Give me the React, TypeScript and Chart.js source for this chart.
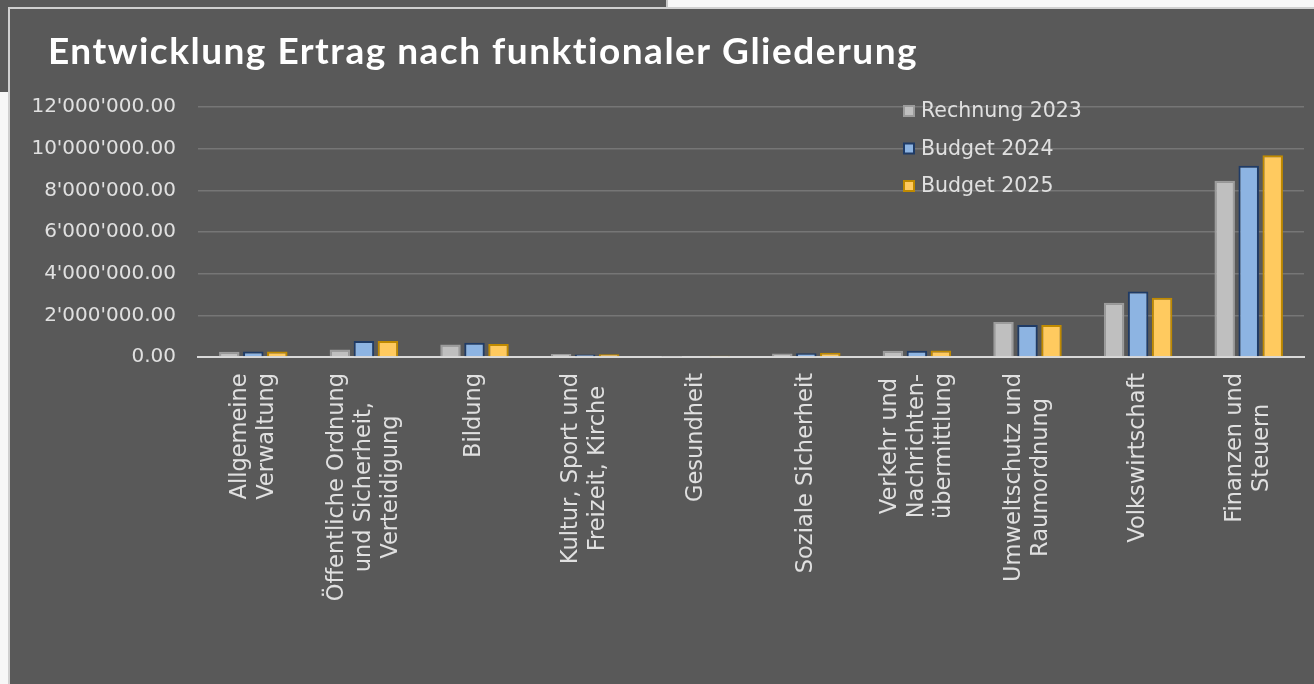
import React, { useEffect, useRef } from "react";
import { Chart, registerables } from "chart.js";

Chart.register(...registerables);

const TITLE = "Entwicklung Ertrag nach funktionaler Gliederung";

const categories: string[][] = [
  ["Allgemeine", "Verwaltung"],
  ["Öffentliche Ordnung", "und Sicherheit,", "Verteidigung"],
  ["Bildung"],
  ["Kultur, Sport und", "Freizeit, Kirche"],
  ["Gesundheit"],
  ["Soziale Sicherheit"],
  ["Verkehr und", "Nachrichten-", "übermittlung"],
  ["Umweltschutz und", "Raumordnung"],
  ["Volkswirtschaft"],
  ["Finanzen und", "Steuern"],
];

const seriesNames = ["Rechnung 2023", "Budget 2024", "Budget 2025"];

const rechnung2023 = [250000, 360000, 600000, 150000, 15000, 170000, 300000, 1680000, 2600000, 8460000];
const budget2024 = [260000, 770000, 680000, 120000, 40000, 180000, 300000, 1540000, 3150000, 9180000];
const budget2025 = [260000, 770000, 630000, 130000, 60000, 210000, 310000, 1540000, 2850000, 9680000];

const yMin = 0;
const yMax = 12000000;
const yStep = 2000000;

const fillColors = ["#bfbfbf", "#8db4e2", "#ffca5f"];
const borderColors = ["#9c9c9c", "#1f3b66", "#c08a00"];

function fmt(v: number): string {
  const fixed = Number(v).toFixed(2);
  const [intPart, dec] = fixed.split(".");
  return intPart.replace(/\B(?=(\d{3})+(?!\d))/g, "'") + "." + dec;
}

const overlayPlugin = {
  id: "overlay",
  afterDraw(chart: any) {
    const ctx = chart.ctx as any;
    const xs = chart.scales.x;
    const area = chart.chartArea;
    ctx.save();
    // title
    ctx.fillStyle = "#ffffff";
    ctx.font = "bold 37px Lato";
    ctx.textAlign = "left";
    ctx.textBaseline = "alphabetic";
    ctx.letterSpacing = "1.5px";
    ctx.fillText(TITLE, 48, 64);
    ctx.letterSpacing = "0px";

    // category labels, rotated, lines centred
    ctx.font = '22.5px "DejaVu Sans"';
    ctx.fillStyle = "#e0e0e0";
    const lh = 27;
    categories.forEach((lines, i) => {
      const x = xs.getPixelForValue(i);
      const maxW = Math.max(...lines.map((l) => ctx.measureText(l).width));
      ctx.save();
      ctx.translate(x, area.bottom + 16);
      ctx.rotate(-Math.PI / 2);
      ctx.textAlign = "center";
      ctx.textBaseline = "middle";
      lines.forEach((l, j) => {
        ctx.fillText(l, -maxW / 2, (j - (lines.length - 1) / 2) * lh);
      });
      ctx.restore();
    });

    // legend
    ctx.font = '20.5px "DejaVu Sans"';
    ctx.textAlign = "left";
    ctx.textBaseline = "middle";
    chart.data.datasets.forEach((ds: any, i: number) => {
      const cy = 111 + i * 37.5;
      const bx = 903;
      ctx.fillStyle = ds.borderColor;
      ctx.fillRect(bx, cy - 6, 12, 12);
      ctx.fillStyle = ds.backgroundColor;
      ctx.fillRect(bx + 2, cy - 4, 8, 8);
      ctx.fillStyle = "#e0e0e0";
      ctx.fillText(ds.label, 921, cy + 1);
    });
    ctx.restore();
  },
};

export default function App() {
  const ref = useRef<HTMLCanvasElement | null>(null);

  useEffect(() => {
    if (!ref.current) return;
    const series = [rechnung2023, budget2024, budget2025];
    const chart = new Chart(ref.current, {
      type: "bar",
      data: {
        labels: categories.map((c) => c.join(" ")),
        datasets: series.map((data, i) => ({
          label: seriesNames[i],
          data,
          backgroundColor: fillColors[i],
          borderColor: borderColors[i],
          borderWidth: 2,
          borderSkipped: "start",
          categoryPercentage: 0.651,
          barPercentage: 0.854,
        })),
      },
      options: {
        responsive: false,
        animation: false,
        devicePixelRatio: 1,
        layout: { padding: { top: 107, right: 10, bottom: 684 - 357, left: 0 } },
        plugins: {
          legend: { display: false },
          tooltip: { enabled: false },
          title: { display: false },
        },
        scales: {
          x: {
            grid: { display: false, drawTicks: false },
            border: { display: true, color: "#d9d9d9", width: 2 },
            ticks: { display: false },
            afterFit: (s: any) => {
              s.height = 0;
            },
          },
          y: {
            min: yMin,
            max: yMax,
            ticks: {
              stepSize: yStep,
              color: "#e0e0e0",
              font: { family: "DejaVu Sans", size: 20 },
              padding: 22,
              callback: (v: any) => fmt(Number(v)),
            },
            grid: {
              drawTicks: false,
              lineWidth: 1.5,
              color: (c: any) => (c.tick && c.tick.value === 0 ? "rgba(0,0,0,0)" : "#767676"),
            },
            border: { display: false },
            afterFit: (s: any) => {
              s.width = 198;
            },
          },
        },
      },
      plugins: [overlayPlugin],
    } as any);
    return () => chart.destroy();
  }, []);

  return (
    <div style={{ position: "absolute", left: 0, top: 0, width: 1314, height: 684, background: "#f7f7f7", overflow: "hidden" }}>
      <div style={{ position: "absolute", left: 0, top: 0, width: 668, height: 92, background: "#5a5a5a", borderRight: "2px solid #c8c8c8", boxSizing: "border-box" }} />
      <div style={{ position: "absolute", left: 8, top: 7, width: 1306, height: 677, background: "#595959", borderTop: "2px solid #d0d0d0", borderLeft: "2px solid #d0d0d0", boxSizing: "border-box" }} />
      <canvas ref={ref} width={1314} height={684} style={{ position: "absolute", left: 0, top: 0, width: 1314, height: 684 }} />
    </div>
  );
}
